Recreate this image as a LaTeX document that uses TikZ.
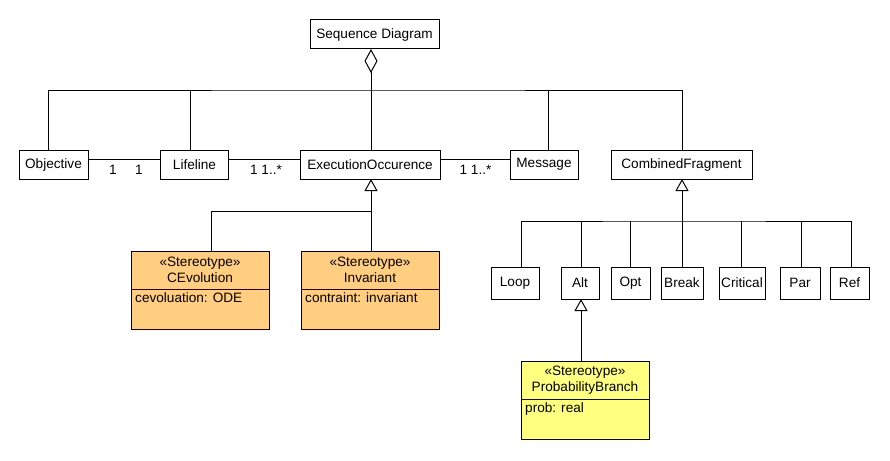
\documentclass[tikz,border=0pt]{standalone}
\usepackage{fontspec}
\setmainfont{Liberation Sans}
\usetikzlibrary{arrows.meta}
\definecolor{stereoorange}{RGB}{255,206,128}
\definecolor{stereoyellow}{RGB}{255,255,128}
\begin{document}
\begin{tikzpicture}[x=1pt,y=-1pt,
  every node/.style={font=\fontsize{13.6}{16}\selectfont},
  cls/.style={draw, line width=1pt, rectangle, inner sep=0pt, outer sep=0pt, minimum height=29pt},
  sub/.style={draw, line width=1pt, rectangle, inner sep=0pt, outer sep=0pt, minimum height=32pt},
  head/.style={draw, line width=1pt, rectangle, inner sep=0pt, outer sep=0pt, minimum height=38pt, align=center},
  attrbox/.style={draw, line width=1pt, rectangle, inner sep=0pt, outer sep=0pt, minimum height=40pt, anchor=north},
  attrtext/.style={anchor=north west, inner sep=0pt, xshift=4pt, yshift=-3pt},
  mult/.style={inner sep=0pt},
  conn/.style={line width=1pt},
  gen/.style={line width=1pt, -{Triangle[open, length=12pt, width=13pt]}},
  agg/.style={line width=1pt, {Diamond[open, length=24pt, width=13pt]}-}
]
\useasboundingbox (0,0) rectangle (890,460);

% top
\node[cls, minimum width=129pt] (seq) at (374.5,34.5) {Sequence Diagram};
\coordinate (bus) at (371,90);

% row of classes
\node[cls, minimum width=69pt] (obj) at (53.5,164.5) {Objective};
\node[cls, minimum width=68pt] (life) at (194.5,164.5) {Lifeline};
\node[cls, minimum width=140pt] (exec) at (370,164.5) {ExecutionOccurence};
\node[cls, minimum width=68pt] (msg) at (544,164.5) {Message};
\node[cls, minimum width=141pt] (cf) at (681.5,164.5) {CombinedFragment};

% aggregation
\draw[agg] ([xshift=-3.5pt]seq.south) -- (bus);
\draw[conn] ([xshift=-5.5pt]obj.north) |- (bus) -| ([xshift=0.5pt]cf.north);
\draw[conn] ([xshift=-4.5pt]life.north) -- ([xshift=-4.5pt]life.north |- bus);
\draw[conn] ([xshift=1pt]exec.north) -- (bus);
\draw[conn] ([xshift=4pt]msg.north) -- ([xshift=4pt]msg.north |- bus);

% associations
\draw[conn] ([yshift=5.5pt]obj.east) -- ([yshift=5.5pt]life.west);
\draw[conn] ([yshift=5.5pt]life.east) -- ([yshift=5.5pt]exec.west);
\draw[conn] ([yshift=5.5pt]exec.east) -- ([yshift=5.5pt]msg.west);
\node[mult] (m1) at (113,170) {1};
\node[mult] (m2) at (139,170) {1};
\node[mult] (m3) at (266,170) {1 1..*};
\node[mult] (m4) at (475.5,170) {1 1..*};

% stereotypes of ExecutionOccurence
\node[head, fill=stereoorange, minimum width=138pt] (cev) at (200,270) {«Stereotype»\\CEvolution};
\node[attrbox, fill=stereoorange, minimum width=138pt] (ceva) at (cev.south) {};
\node[attrtext] (cevt) at (ceva.north west) {cevoluation: ODE};
\node[head, fill=stereoorange, minimum width=138pt] (inv) at (370,270) {«Stereotype»\\Invariant};
\node[attrbox, fill=stereoorange, minimum width=138pt] (inva) at (inv.south) {};
\node[attrtext] (invt) at (inva.north west) {contraint: invariant};
\coordinate (ejoin) at (371,211);
\draw[gen] ([xshift=1pt]inv.north) -- ([xshift=1pt]exec.south);
\draw[conn] ([xshift=11pt]cev.north) |- (ejoin);

% combined fragment kinds
\node[sub, minimum width=48pt] (loop) at (515,283) {Loop};
\node[sub, minimum width=38pt] (alt) at (580,283) {Alt};
\node[sub, minimum width=39pt] (opt) at (630.5,283) {Opt};
\node[sub, minimum width=42pt] (brk) at (682,283) {Break};
\node[sub, minimum width=46pt] (crit) at (742,283) {Critical};
\node[sub, minimum width=40pt] (par) at (800,283) {Par};
\node[sub, minimum width=39pt] (ref) at (849.5,283) {Ref};
\coordinate (cfbus) at (682,221);
\draw[gen] (brk.north) -- (brk.north |- cf.south);
\draw[conn] ([xshift=6pt]loop.north) |- (cfbus) -| ([xshift=1.5pt]ref.north);
\draw[conn] ([xshift=1pt]alt.north) -- ([xshift=1pt]alt.north |- cfbus);
\draw[conn] (opt.north) -- (opt.north |- cfbus);
\draw[conn] ([xshift=-1pt]crit.north) -- ([xshift=-1pt]crit.north |- cfbus);
\draw[conn] ([xshift=1pt]par.north) -- ([xshift=1pt]par.north |- cfbus);

% probability branch
\node[head, fill=stereoyellow, minimum width=128pt] (pb) at (585,380) {«Stereotype»\\ProbabilityBranch};
\node[attrbox, fill=stereoyellow, minimum width=128pt] (pba) at (pb.south) {};
\node[attrtext] (pbt) at (pba.north west) {prob: real};
\draw[gen] ([xshift=-4pt]pb.north) -- ([xshift=-4pt]pb.north |- alt.south);
\end{tikzpicture}
\end{document}
